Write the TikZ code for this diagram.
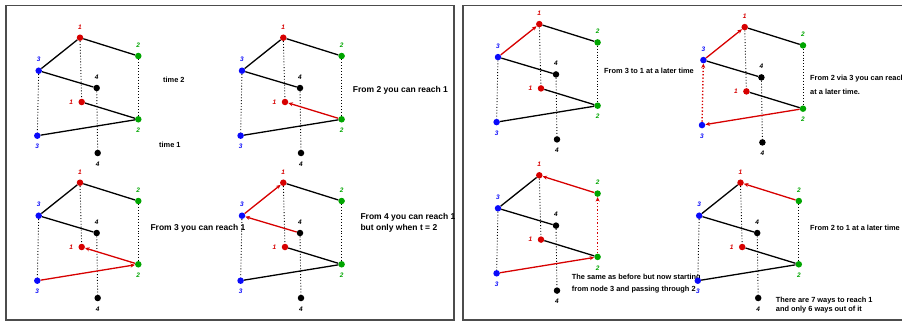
\documentclass[tikz,border=0pt]{standalone}
\usepackage{fontspec}
\setsansfont{Liberation Sans}
\usetikzlibrary{arrows.meta}
\definecolor{nred}{RGB}{215,0,0}
\definecolor{ngreen}{RGB}{0,165,0}
\definecolor{nblue}{RGB}{10,10,250}
\tikzset{dot/.style = {fill=#1, circle, inner sep = 0, minimum size = 6.5pt}}
\tikzset{num/.style = {font=\sffamily\bfseries\itshape\fontsize{6.5}{7}\selectfont, inner sep = 1pt}}
\tikzset{link/.style = {line width = 1.3pt}}
\tikzset{reach/.style = {link, nred, -{Stealth[length=4.5pt,width=4pt]}}}
\tikzset{vert/.style = {dotted, line width = 0.9pt}}
\tikzset{frame/.style = {line width = 1.4pt, black!70}}
\tikzset{note/.style = {anchor = west, align = left, inner sep = 0,
    font = \sffamily\bfseries\fontsize{8.5}{10.5}\selectfont}}
\tikzset{small note/.style = {note, font = \sffamily\bfseries\fontsize{7.4}{9}\selectfont}}

% the four nodes at time 2 (t) and at time 1 (b)
\newcommand{\twolayers}[3]{%
  \begin{scope}[shift={(#2,#3)}]
    \node[dot=nred, label={[num,nred]above:1}] (#1t1) at (80,37.7) {};
    \node[dot=ngreen, label={[num,ngreen]above:2}] (#1t2) at (138.3,56) {};
    \node[dot=nblue, label={[num,nblue]above:3}] (#1t3) at (38.7,70.7) {};
    \node[dot=black, label={[num]above:4}] (#1t4) at (96.7,88) {};
    \node[dot=nred, label={[num,nred]left:1}] (#1b1) at (81.7,102) {};
    \node[dot=ngreen, label={[num,ngreen]below:2}] (#1b2) at (138.3,119.3) {};
    \node[dot=nblue, label={[num,nblue]below:3}] (#1b3) at (37.3,135.7) {};
    \node[dot=black, label={[num]below:4}] (#1b4) at (97.7,153) {};
  \end{scope}}

\begin{document}
\begin{tikzpicture}[x=1pt, y=-1pt, label distance=4pt]
  \useasboundingbox (0,0) rectangle (902,321);
  \draw[frame] (6,320) -- (6,5.5) -- (454,5.5) -- (454,320) -- cycle;
  \draw[frame] (902,5.5) -- (463,5.5) -- (463,320) -- (902,320);

  % the two time layers
  \twolayers{A}{0}{0}
  \foreach \k in {1,...,4} \draw[vert] (At\k) -- (Ab\k);
  \draw[link] (At3) -- (At1) -- (At2);
  \draw[link] (At3) -- (At4);
  \draw[link] (Ab1) -- (Ab2) -- (Ab3);
  \node[small note] (time2) at (163,80) {time 2};
  \node[small note] (time1) at (159,145) {time 1};

  % from 2
  \twolayers{B}{203.3}{0}
  \foreach \k in {1,...,4} \draw[vert] (Bt\k) -- (Bb\k);
  \draw[link] (Bt3) -- (Bt1) -- (Bt2);
  \draw[link] (Bt3) -- (Bt4);
  \draw[link] (Bb2) -- (Bb3);
  \draw[reach] (Bb2) -- (Bb1);
  \node[note] (fromtwo) at (352.7,90.7) {From 2 you can reach 1};

  % from 3
  \twolayers{C}{0}{145}
  \foreach \k in {1,...,4} \draw[vert] (Ct\k) -- (Cb\k);
  \draw[link] (Ct3) -- (Ct1) -- (Ct2);
  \draw[link] (Ct3) -- (Ct4);
  \draw[reach] (Cb3) -- (Cb2);
  \draw[reach] (Cb2) -- (Cb1);
  \node[note] (fromthree) at (150.3,228.3) {From 3 you can reach 1};

  % from 4
  \twolayers{D}{203.3}{145}
  \foreach \k in {1,...,4} \draw[vert] (Dt\k) -- (Db\k);
  \draw[link] (Dt1) -- (Dt2);
  \draw[link] (Db1) -- (Db2) -- (Db3);
  \draw[reach] (Dt4) -- (Dt3);
  \draw[reach] (Dt3) -- (Dt1);
  \node[note] (fromfour) at (360.3,223) {From 4 you can reach 1\\but only when t = 2};

  % 3 to 1 later
  \twolayers{E}{459.3}{-13.6}
  \foreach \k in {1,...,4} \draw[vert] (Et\k) -- (Eb\k);
  \draw[link] (Et1) -- (Et2);
  \draw[link] (Et3) -- (Et4);
  \draw[link] (Eb1) -- (Eb2) -- (Eb3);
  \draw[reach] (Et3) -- (Et1);
  \node[small note] (threeone) at (604,70.7) {From 3 to 1 at a later time};

  % 2 via 3
  \twolayers{F}{664.7}{-10.6}
  \foreach \k in {1,2,4} \draw[vert] (Ft\k) -- (Fb\k);
  \draw[link] (Ft1) -- (Ft2);
  \draw[link] (Ft3) -- (Ft4);
  \draw[link] (Fb1) -- (Fb2);
  \draw[reach] (Fb2) -- (Fb3);
  \draw[reach, dotted, line width=1.4pt] (Fb3) -- (Ft3);
  \draw[reach] (Ft3) -- (Ft1);
  \node[small note] (viathree) at (810,84.5) {From 2 via 3 you can reach\\[5pt]at a later time.};

  % 3 through 2
  \twolayers{G}{459.3}{137.6}
  \foreach \k in {1,3,4} \draw[vert] (Gt\k) -- (Gb\k);
  \draw[link] (Gt3) -- (Gt1);
  \draw[link] (Gt3) -- (Gt4);
  \draw[link] (Gb1) -- (Gb2);
  \draw[reach] (Gb3) -- (Gb2);
  \draw[reach, dotted, line width=1.4pt] (Gb2) -- (Gt2);
  \draw[reach] (Gt2) -- (Gt1);
  \node[small note] (sameas) at (571.7,283.3) {The same as before but now starting\\[3pt]from node 3 and passing through 2};

  % 2 to 1 later
  \twolayers{H}{660.5}{145}
  \foreach \k in {1,...,4} \draw[vert] (Ht\k) -- (Hb\k);
  \draw[link] (Ht3) -- (Ht1);
  \draw[link] (Ht3) -- (Ht4);
  \draw[link] (Hb1) -- (Hb2) -- (Hb3);
  \draw[reach] (Ht2) -- (Ht1);
  \node[small note] (twoone) at (810,228.3) {From 2 to 1 at a later time};
  \node[small note] (sevenways) at (775.7,305.5) {There are 7 ways to reach 1\\and only 6 ways out of it};
\end{tikzpicture}
\end{document}
